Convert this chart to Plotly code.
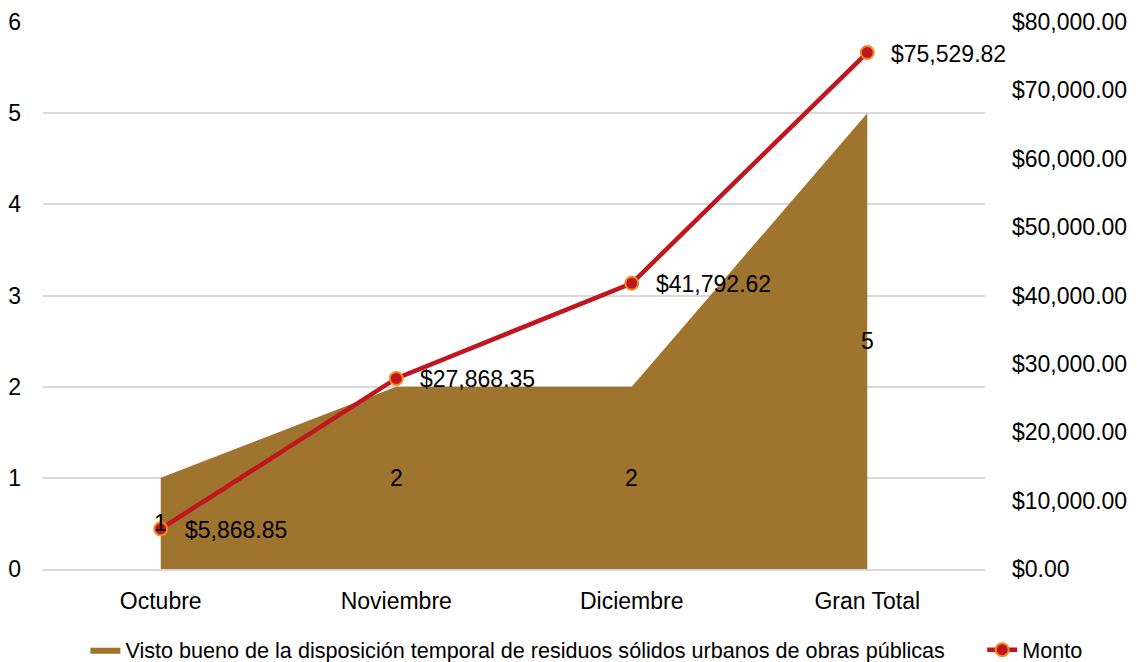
import plotly.graph_objects as go

categories = ["Octubre", "Noviembre", "Diciembre", "Gran Total"]
conteo = [1, 2, 2, 5]
monto = [5868.85, 27868.35, 41792.62, 75529.82]
serie_area = "Visto bueno de la disposición temporal de residuos sólidos urbanos de obras públicas"
serie_linea = "Monto"

FONT = "Liberation Sans, Arial, sans-serif"
FS = 23
fig = go.Figure()
fig.add_trace(go.Scatter(
    x=categories, y=conteo, name=serie_area, mode="lines", fill="tozeroy",
    line=dict(width=0, color="#9E742E"), fillcolor="#9E742E", yaxis="y",
    hoverinfo="skip", legend="legend",
))
fig.add_trace(go.Scatter(
    x=categories, y=monto, name=serie_linea, mode="lines+markers", yaxis="y2",
    line=dict(color="#C0161E", width=4.5),
    marker=dict(size=13, color="#C0161E", line=dict(color="#F08A24", width=2)),
    cliponaxis=False, legend="legend2",
))
for c, v in zip(categories, monto):
    fig.add_annotation(x=c, y=v, yref="y2", text="${:,.2f}".format(v), showarrow=False,
                       xanchor="left", xshift=22, yshift=-1,
                       font=dict(size=FS, color="#000000", family=FONT))
for c, v in zip(categories, conteo):
    fig.add_annotation(x=c, y=v / 2, yref="y", text=str(v), showarrow=False,
                       font=dict(size=FS, color="#000000", family=FONT))

fig.update_layout(
    width=1137, height=662,
    margin=dict(l=43, r=152, t=22, b=93, autoexpand=False),
    paper_bgcolor="white", plot_bgcolor="white",
    font=dict(family=FONT, size=FS, color="#000000"),
    showlegend=True,
    legend=dict(orientation="h", x=0.045, xanchor="left", y=-0.11, yanchor="top",
                font=dict(size=21.6, family=FONT), bgcolor="rgba(0,0,0,0)"),
    legend2=dict(orientation="h", x=0.997, xanchor="left", y=-0.11, yanchor="top",
                 font=dict(size=21.6, family=FONT), bgcolor="rgba(0,0,0,0)"),
    xaxis=dict(type="category", range=[-0.5, 3.5], showgrid=False, showline=True,
               linecolor="#D9D9D9", linewidth=1.5, ticks="", ticklabelstandoff=11,
               automargin=False),
    yaxis=dict(range=[0, 6], dtick=1, showgrid=True, gridcolor="#D9D9D9", gridwidth=1.5,
               zeroline=False, ticks="", ticklabelstandoff=21, automargin=False),
    yaxis2=dict(range=[0, 80000], dtick=10000, overlaying="y", side="right",
                showgrid=False, zeroline=False, tickformat="$,.2f", ticks="",
                ticklabelstandoff=26, automargin=False),
)
fig.write_html("out.html", config={"displayModeBar": False},
               post_script="document.body.style.margin='0';document.body.style.overflow='hidden';")
